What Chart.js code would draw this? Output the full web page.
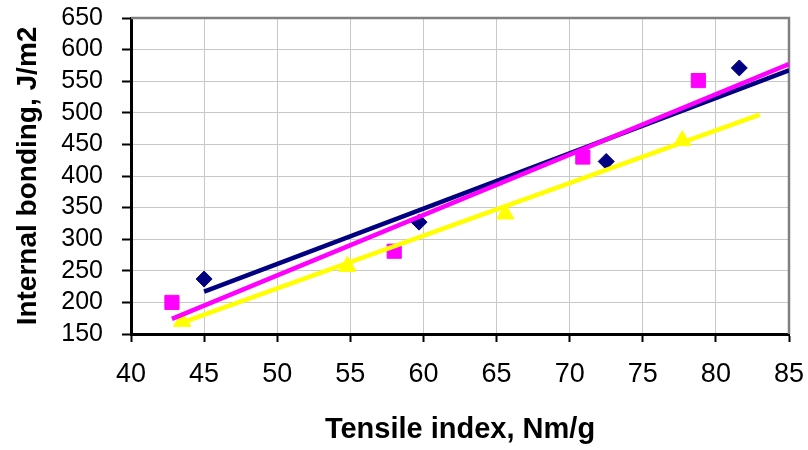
<!DOCTYPE html>
<html>
<head>
<meta charset="utf-8">
<script src="https://cdn.jsdelivr.net/npm/chart.js@4/dist/chart.umd.min.js"></script>
<style>
  html, body { margin: 0; padding: 0; background: #ffffff; }
  #wrap { width: 808px; height: 450px; }
</style>
</head>
<body>
<div id="wrap"><canvas id="chart" width="808" height="450"></canvas></div>
<script>
// Internal bonding vs tensile index for three furnishes, each with its linear trendline.

// Axis tick values
const xTickValues = [40, 45, 50, 55, 60, 65, 70, 75, 80, 85];
const yTickValues = [150, 200, 250, 300, 350, 400, 450, 500, 550, 600, 650];

// Measured points (tensile index, Nm/g / internal bonding, J/m2)
const navyX = [45.0, 59.7, 72.5, 81.6];
const navyY = [237, 327, 423, 571];

const magentaX = [42.8, 58.0, 70.9, 78.8];
const magentaY = [200, 281, 430, 551];

const yellowX = [43.5, 54.8, 65.6, 77.7];
const yellowY = [170, 257, 340, 456];

// Trendline end points
const navyTrendX = [45, 85];
const navyTrendY = [217, 567];

const magentaTrendX = [42.8, 85];
const magentaTrendY = [174, 577];

const yellowTrendX = [43.5, 83];
const yellowTrendY = [168, 497];

const NAVY = '#000080';
const MAGENTA = '#ff00ff';
const YELLOW = '#ffff00';

const zip = (xs, ys) => xs.map((x, i) => ({ x: x, y: ys[i] }));

const FONT = "'Liberation Sans', Arial, Helvetica, sans-serif";

// Grey frame on the top and right edges of the plot area
const framePlugin = {
  id: 'plotFrame',
  beforeDatasetsDraw(chart) {
    const { ctx, chartArea: a } = chart;
    ctx.save();
    ctx.strokeStyle = '#808080';
    ctx.lineWidth = 2.5;
    ctx.beginPath();
    ctx.moveTo(a.left, a.top);
    ctx.lineTo(a.right, a.top);
    ctx.lineTo(a.right, a.bottom);
    ctx.stroke();
    ctx.restore();
  }
};

const trend = (label, xs, ys, color, order) => ({
  label: label,
  data: zip(xs, ys),
  showLine: true,
  borderColor: color,
  borderWidth: 4.5,
  pointRadius: 0,
  pointHoverRadius: 0,
  fill: false,
  order: order
});

const points = (label, xs, ys, color, style, radius) => ({
  label: label,
  data: zip(xs, ys),
  showLine: false,
  pointStyle: style,
  pointRadius: radius,
  pointHoverRadius: radius,
  pointBackgroundColor: color,
  pointBorderColor: color,
  pointBorderWidth: 1,
  order: 10
});

new Chart(document.getElementById('chart'), {
  type: 'scatter',
  data: {
    datasets: [
      trend('Magenta trend', magentaTrendX, magentaTrendY, MAGENTA, 0),
      trend('Yellow trend', yellowTrendX, yellowTrendY, YELLOW, 1),
      trend('Navy trend', navyTrendX, navyTrendY, NAVY, 2),
      points('Navy', navyX, navyY, NAVY, 'rectRot', 8),
      points('Magenta', magentaX, magentaY, MAGENTA, 'rect', 10),
      points('Yellow', yellowX, yellowY, YELLOW, 'triangle', 10)
    ]
  },
  options: {
    responsive: false,
    animation: false,
    events: [],
    layout: { padding: { left: 0, right: 19, top: 18, bottom: 0 } },
    plugins: {
      legend: { display: false },
      tooltip: { enabled: false }
    },
    scales: {
      x: {
        type: 'linear',
        min: 40,
        max: 85,
        afterBuildTicks(scale) { scale.ticks = xTickValues.map(v => ({ value: v })); },
        afterFit(scale) {
          scale.height = 116;
          scale.paddingLeft = 0;
          scale.paddingRight = 0;
        },
        ticks: {
          color: '#000000',
          padding: 16,
          autoSkip: false,
          maxRotation: 0,
          font: { family: FONT, size: 27 }
        },
        grid: {
          color: '#c8c8c8',
          lineWidth: 1,
          drawTicks: true,
          tickLength: 8,
          tickColor: '#000000',
          tickWidth: 2
        },
        border: { display: true, color: '#000000', width: 3 },
        title: {
          display: true,
          text: 'Tensile index, Nm/g',
          color: '#000000',
          font: { family: FONT, size: 29, weight: 'bold' },
          padding: { top: 0, bottom: 3 }
        }
      },
      y: {
        type: 'linear',
        min: 150,
        max: 650,
        afterBuildTicks(scale) { scale.ticks = yTickValues.map(v => ({ value: v })); },
        afterFit(scale) {
          scale.width = 131;
          scale.paddingTop = 0;
          scale.paddingBottom = 0;
        },
        ticks: {
          color: '#000000',
          padding: 19,
          autoSkip: false,
          font: { family: FONT, size: 25 }
        },
        grid: {
          color: '#c8c8c8',
          lineWidth: 1,
          drawTicks: true,
          tickLength: 9,
          tickColor: '#000000',
          tickWidth: 2
        },
        border: { display: true, color: '#000000', width: 3 },
        title: {
          display: true,
          text: 'Internal bonding, J/m2',
          color: '#000000',
          font: { family: FONT, size: 28, weight: 'bold' },
          padding: { top: 11, bottom: 0 }
        }
      }
    }
  },
  plugins: [framePlugin]
});
</script>
</body>
</html>
